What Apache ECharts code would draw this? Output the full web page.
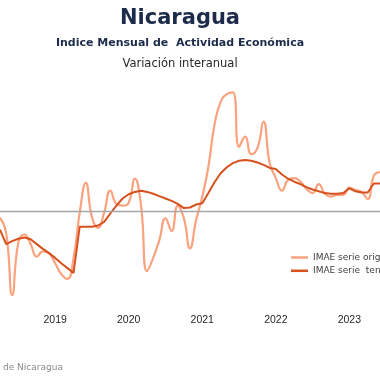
<!DOCTYPE html>
<html><head><meta charset="utf-8">
<script src="https://cdn.jsdelivr.net/npm/echarts@6/dist/echarts.min.js"></script>
<style>html,body{margin:0;padding:0;background:#fff;overflow:hidden}#c{width:380px;height:380px}</style>
</head><body><div id="c"></div>
<script>
// Monthly categories (Apr 2018 - Jun 2023)
const months = [
 '2018-04','2018-05','2018-06','2018-07','2018-08','2018-09','2018-10','2018-11','2018-12',
 '2019-01','2019-02','2019-03','2019-04','2019-05','2019-06','2019-07','2019-08','2019-09','2019-10','2019-11','2019-12',
 '2020-01','2020-02','2020-03','2020-04','2020-05','2020-06','2020-07','2020-08','2020-09','2020-10','2020-11','2020-12',
 '2021-01','2021-02','2021-03','2021-04','2021-05','2021-06','2021-07','2021-08','2021-09','2021-10','2021-11','2021-12',
 '2022-01','2022-02','2022-03','2022-04','2022-05','2022-06','2022-07','2022-08','2022-09','2022-10','2022-11','2022-12',
 '2023-01','2023-02','2023-03','2023-04','2023-05','2023-06'
];
const yearLabels = ['2019','2020','2021','2022','2023'];
// IMAE serie original (variación interanual, %)
const serieOriginal = [
 -1.0, -3.5, -13.9, -5.1, -3.8, -5.4, -7.5, -6.6, -6.9,
 -8.6, -10.4, -11.2, -7.7, -0.2, 4.8, -0.9, -2.7, -0.1, 3.5, 1.3, 1.0,
 1.5, 5.5, 1.1, -9.9, -7.7, -4.7, -1.1, -3.2, 1.0, -1.1, -6.1, -1.4,
 2.5, 7.5, 14.5, 18.3, 19.6, 19.9, 10.8, 12.5, 9.6, 10.6, 15.0, 8.1,
 5.6, 3.5, 5.3, 5.6, 5.0, 3.8, 3.1, 4.6, 3.0, 2.5, 2.8, 2.8,
 4.0, 3.6, 3.3, 2.1, 6.0, 6.6
];
// IMAE serie tendencia-ciclo (variación interanual, %)
const serieTendencia = [
 -3.0, -5.4, -4.9, -4.5, -4.3, -4.6, -5.4, -6.2, -6.9,
 -7.7, -8.6, -9.4, -10.2, -2.5, -2.5, -2.5, -2.3, -1.7, -0.3, 1.0, 2.2,
 2.9, 3.3, 3.5, 3.3, 3.0, 2.6, 2.2, 1.8, 1.3, 0.6, 0.7, 1.2,
 1.4, 3.1, 4.9, 6.4, 7.4, 8.1, 8.5, 8.6, 8.5, 8.2, 7.8, 7.3,
 7.1, 6.2, 5.5, 5.0, 4.6, 4.1, 3.7, 3.4, 3.1, 3.0, 3.0, 3.1,
 3.9, 3.4, 3.2, 3.2, 4.7, 4.7
];
const seriesNames = ['IMAE serie original', 'IMAE serie  tendencia'];
const titleText = 'Nicaragua';
const subtitleText = 'Indice Mensual de  Actividad Económica';
const unitText = 'Variación interanual';
const sourceText = 'de Nicaragua';

const chart = echarts.init(document.getElementById('c'), null, {renderer: 'canvas'});
chart.setOption({
  animation: false,
  backgroundColor: '#ffffff',
  grid: {left: -5.7, right: -3.6, top: 79.7, bottom: 72.3, containLabel: false},
  xAxis: {
    type: 'category', data: months, boundaryGap: false,
    axisLine: {show: false}, axisTick: {show: false}, splitLine: {show: false},
    axisLabel: {
      interval: function (i, v) { return v.slice(5) === '01'; },
      formatter: function (v) { const y = v.slice(0, 4); return yearLabels.indexOf(y) >= 0 ? y : ''; },
      margin: 7, color: '#262626', fontSize: 10.5, fontFamily: 'Liberation Sans'
    }
  },
  yAxis: {type: 'value', min: -16, max: 22, show: false},
  legend: {
    orient: 'vertical', left: 286, top: 247, itemWidth: 17, itemHeight: 2.5, itemGap: 2.3,
    icon: 'rect', data: seriesNames,
    textStyle: {fontSize: 9, fontFamily: 'DejaVu Sans', color: '#404040', lineHeight: 11}
  },
  series: [
    {
      name: seriesNames[0], type: 'line', data: serieOriginal, smooth: 0.5, showSymbol: false, z: 3,
      lineStyle: {color: '#fba27e', width: 2.2}, itemStyle: {color: '#fba27e'},
      markLine: {
        silent: true, symbol: 'none', label: {show: false},
        lineStyle: {color: '#a6a6a6', width: 1.3, type: 'solid'},
        data: [{yAxis: 0}]
      }
    },
    {
      name: seriesNames[1], type: 'line', data: serieTendencia, smooth: false, showSymbol: false, z: 4,
      lineStyle: {color: '#d5521f', width: 2}, itemStyle: {color: '#d5521f'}
    }
  ],
  graphic: [
    {type: 'text', x: 180, y: 19, style: {text: titleText, font: 'bold 21px "DejaVu Sans"', fill: '#1c2b4a', align: 'center', verticalAlign: 'middle'}},
    {type: 'text', x: 180, y: 43.5, style: {text: subtitleText, font: 'bold 11px "DejaVu Sans"', fill: '#1c2b4a', align: 'center', verticalAlign: 'middle'}},
    {type: 'text', x: 180, y: 64.5, style: {text: unitText, font: '11.5px "DejaVu Sans"', fill: '#262626', align: 'center', verticalAlign: 'middle'}},
    {type: 'text', x: 3, y: 368, style: {text: sourceText, font: '9px "DejaVu Sans"', fill: '#8a8a8a', align: 'left', verticalAlign: 'middle'}}
  ]
});
</script>
</body></html>
